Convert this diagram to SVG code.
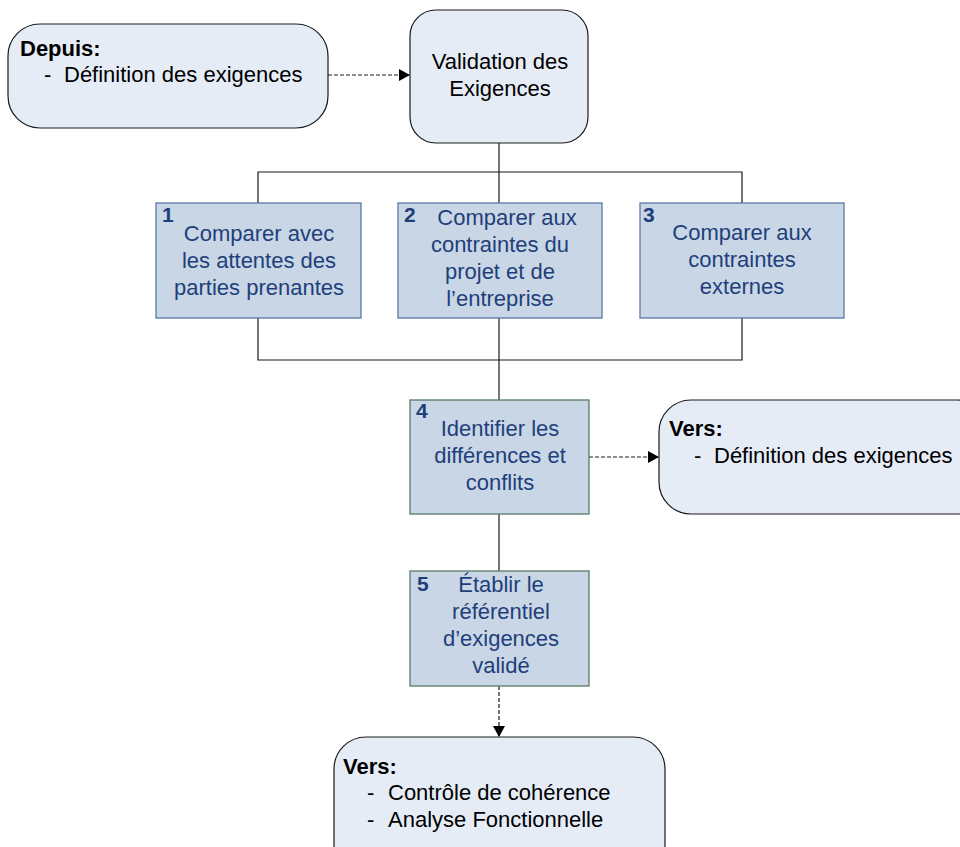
<svg xmlns="http://www.w3.org/2000/svg" width="960" height="847" viewBox="0 0 960 847">
<style>
.rb{fill:#e6ecf6;stroke:#1a1a1a;stroke-width:1.2}
.st{fill:#c8d6e6;stroke:#5a78a8;stroke-width:1.3}
.sg{fill:#c8d6e6;stroke:#5a7a68;stroke-width:1.3}
.t{font-family:"Liberation Sans",Arial,sans-serif;font-size:22px;fill:#000}
.b{font-weight:bold}
.bt{font-family:"Liberation Sans",Arial,sans-serif;font-size:22px;fill:#1f3f7a;text-anchor:middle}
.n{font-family:"Liberation Sans",Arial,sans-serif;font-size:21px;font-weight:bold;fill:#1f3f7a}
.ln{fill:none;stroke:#1a1a1a;stroke-width:1.2}
.dl{fill:none;stroke:#1a1a1a;stroke-width:1.2;stroke-dasharray:4 2}
</style>
<defs>
<marker id="ah" markerWidth="11" markerHeight="12" refX="10" refY="6" orient="auto" markerUnits="userSpaceOnUse">
<path d="M0,0 L11,6 L0,12 Z" fill="#000"/>
</marker>
</defs>
<rect width="960" height="847" fill="#fff"/>
<g id="connectors">
<path class="dl" d="M328,75 H409" marker-end="url(#ah)"/>
<path class="ln" d="M499,143 V203"/>
<path class="ln" d="M258,203 V172 H742 V203"/>
<path class="ln" d="M258,318 V360 H742 V318"/>
<path class="ln" d="M499,318 V400"/>
<path class="ln" d="M499,514 V571"/>
<path class="dl" d="M589,457 H658" marker-end="url(#ah)"/>
<path class="dl" d="M499,686 V736" marker-end="url(#ah)"/>
</g>
<g id="depuis">
<rect class="rb" x="8" y="24" width="320" height="104" rx="32"/>
<text class="t b" x="20" y="56">Depuis:</text>
<text class="t" x="44" y="82">-</text>
<text class="t" x="64" y="82">Définition des exigences</text>
</g>
<g id="validation">
<rect class="rb" x="410" y="10" width="178" height="133" rx="26"/>
<text class="t" x="500" y="69" text-anchor="middle">Validation des</text>
<text class="t" x="500" y="96" text-anchor="middle">Exigences</text>
</g>
<g id="step1">
<rect class="st" x="156" y="203" width="205" height="115"/>
<text class="n" x="162" y="222">1</text>
<text class="bt" x="259" y="241">Comparer avec</text>
<text class="bt" x="259" y="268">les attentes des</text>
<text class="bt" x="259" y="295">parties prenantes</text>
</g>
<g id="step2">
<rect class="st" x="398" y="203" width="204" height="115"/>
<text class="n" x="404" y="222">2</text>
<text class="bt" x="507" y="225">Comparer aux</text>
<text class="bt" x="500" y="252">contraintes du</text>
<text class="bt" x="500" y="279">projet et de</text>
<text class="bt" x="500" y="306">l’entreprise</text>
</g>
<g id="step3">
<rect class="st" x="640" y="203" width="204" height="115"/>
<text class="n" x="643" y="222">3</text>
<text class="bt" x="742" y="240">Comparer aux</text>
<text class="bt" x="742" y="267">contraintes</text>
<text class="bt" x="742" y="294">externes</text>
</g>
<g id="step4">
<rect class="sg" x="410" y="400" width="179" height="114"/>
<text class="n" x="416" y="418">4</text>
<text class="bt" x="500" y="436">Identifier les</text>
<text class="bt" x="500" y="463">différences et</text>
<text class="bt" x="500" y="490">conflits</text>
</g>
<g id="step5">
<rect class="sg" x="410" y="571" width="179" height="115"/>
<text class="n" x="417" y="591">5</text>
<text class="bt" x="501" y="592">Établir le</text>
<text class="bt" x="501" y="619">référentiel</text>
<text class="bt" x="501" y="646">d’exigences</text>
<text class="bt" x="501" y="673">validé</text>
</g>
<g id="vers1">
<rect class="rb" x="659" y="400" width="330" height="114" rx="32"/>
<text class="t b" x="669" y="436">Vers:</text>
<text class="t" x="694" y="463">-</text>
<text class="t" x="714" y="463">Définition des exigences</text>
</g>
<g id="vers2">
<rect class="rb" x="334" y="737" width="331" height="140" rx="32"/>
<text class="t b" x="343" y="774">Vers:</text>
<text class="t" x="367" y="800">-</text>
<text class="t" x="388" y="800">Contrôle de cohérence</text>
<text class="t" x="367" y="827">-</text>
<text class="t" x="388" y="827">Analyse Fonctionnelle</text>
</g>
</svg>
